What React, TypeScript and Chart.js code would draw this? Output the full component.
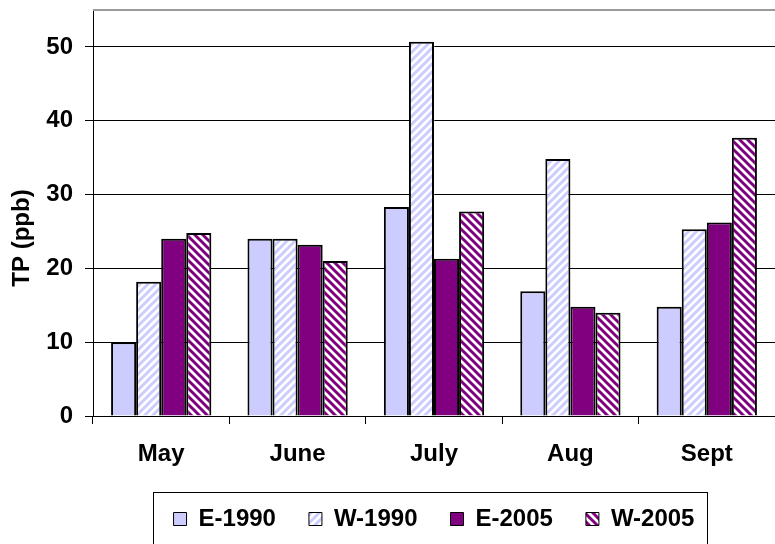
import React, { useEffect, useRef } from "react";
import { Chart, registerables } from "chart.js";

Chart.register(...registerables);

const categories = ["May", "June", "July", "Aug", "Sept"];
const seriesNames = ["E-1990", "W-1990", "E-2005", "W-2005"];
const e1990 = [10.0, 24.0, 28.3, 16.9, 14.8];
const w1990 = [18.2, 24.0, 50.7, 34.8, 25.3];
const e2005 = [24.0, 23.2, 21.3, 14.8, 26.2];
const w2005 = [24.8, 21.0, 27.7, 14.0, 37.7];
const yTicks = [0, 10, 20, 30, 40, 50];
const yTitle = "TP (ppb)";

const LAVENDER = "#CCCCFF";
const PURPLE = "#800080";
const FONT = "Arial, 'Liberation Sans', sans-serif";
const FSIZE = 24;

function makeStripe(color: string, dir: "up" | "down"): CanvasPattern | string {
  const size = 8;
  const c = document.createElement("canvas");
  c.width = size;
  c.height = size;
  const ctx = c.getContext("2d");
  if (!ctx) return color;
  ctx.fillStyle = "#ffffff";
  ctx.fillRect(0, 0, size, size);
  ctx.strokeStyle = color;
  ctx.lineWidth = 3;
  ctx.lineCap = "square";
  for (let o = -size; o <= size; o += size) {
    ctx.beginPath();
    if (dir === "up") {
      ctx.moveTo(o - 1, size + 1);
      ctx.lineTo(o + size + 1, -1);
    } else {
      ctx.moveTo(o - 1, -1);
      ctx.lineTo(o + size + 1, size + 1);
    }
    ctx.stroke();
  }
  const p = ctx.createPattern(c, "repeat");
  return p || color;
}

const framePlugin = {
  id: "frames",
  afterDraw(chart: any) {
    const { ctx, chartArea } = chart;
    ctx.save();
    // top border of plot area
    ctx.strokeStyle = "#9a9a9a";
    ctx.lineWidth = 2;
    ctx.beginPath();
    ctx.moveTo(chartArea.left, chartArea.top);
    ctx.lineTo(chart.width, chartArea.top);
    ctx.stroke();
    // y-axis title
    ctx.fillStyle = "#000";
    ctx.font = `bold ${FSIZE}px ${FONT}`;
    ctx.textAlign = "center";
    ctx.textBaseline = "middle";
    ctx.translate(22, 238);
    ctx.rotate(-Math.PI / 2);
    ctx.fillText(yTitle, 0, 0);
    ctx.setTransform(1, 0, 0, 1, 0, 0);
    // legend frame
    const lg = chart.legend;
    if (lg && lg.legendHitBoxes && lg.legendHitBoxes.length) {
      const boxes = lg.legendHitBoxes;
      let minL = Infinity, maxR = -Infinity, minT = Infinity;
      boxes.forEach((b: any) => {
        minL = Math.min(minL, b.left);
        maxR = Math.max(maxR, b.left + b.width);
        minT = Math.min(minT, b.top);
      });
      ctx.strokeStyle = "#000";
      ctx.lineWidth = 1;
      ctx.strokeRect(Math.round(minL - 21) + 0.5, Math.round(minT - 15) + 0.5, Math.round(maxR - minL + 33), 80);
    }
    ctx.restore();
  },
};

export default function App() {
  const ref = useRef<HTMLCanvasElement | null>(null);
  useEffect(() => {
    document.body.style.margin = "0";
    const canvas = ref.current;
    if (!canvas) return;
    const wUp = makeStripe(LAVENDER, "up");
    const wDown = makeStripe(PURPLE, "down");
    const fills = [LAVENDER, wUp, PURPLE, wDown];
    const values = [e1990, w1990, e2005, w2005];
    const chart = new Chart(canvas, {
      type: "bar",
      data: {
        labels: categories,
        datasets: seriesNames.map((name, i) => ({
          label: name,
          data: values[i],
          backgroundColor: fills[i] as any,
          borderColor: "#000",
          borderWidth: 2,
          categoryPercentage: 0.735,
          barPercentage: 1,
        })),
      },
      options: {
        animation: false,
        responsive: false,
        maintainAspectRatio: false,
        layout: { padding: { left: 0, right: 0, top: 10, bottom: 3 } },
        plugins: {
          tooltip: { enabled: false },
          legend: {
            position: "bottom",
            fullSize: false,
            labels: {
              boxWidth: 13,
              boxHeight: 13,
              padding: 33,
              color: "#000",
              font: { family: FONT, size: FSIZE, weight: "bold" },
              generateLabels(ch: any) {
                const items = Chart.defaults.plugins.legend.labels.generateLabels(ch);
                items.forEach((it: any) => {
                  it.lineWidth = 1;
                });
                return items;
              },
            },
          },
        },
        scales: {
          x: {
            grid: {
              offset: true,
              drawOnChartArea: false,
              drawTicks: true,
              tickLength: 8,
              color: "#000",
            },
            border: { color: "#000", width: 1 },
            ticks: {
              color: "#000",
              padding: 16,
              font: { family: FONT, size: FSIZE, weight: "bold" },
            },
            afterFit(scale: any) {
              scale.height = 58;
              scale.paddingLeft = 0;
              scale.paddingRight = 0;
            },
          },
          y: {
            min: 0,
            max: 55,
            afterBuildTicks(scale: any) {
              scale.ticks = yTicks.map((v) => ({ value: v }));
            },
            grid: {
              color: "#000",
              lineWidth: 1,
              tickLength: 8,
            },
            border: { color: "#000", width: 1 },
            ticks: {
              color: "#000",
              padding: 12,
              font: { family: FONT, size: FSIZE, weight: "bold" },
            },
            afterFit(scale: any) {
              scale.width = 93;
              scale.paddingTop = 0;
              scale.paddingBottom = 0;
            },
          },
        },
      },
      plugins: [framePlugin],
    });
    return () => chart.destroy();
  }, []);
  return (
    <div style={{ width: 775, height: 544 }}>
      <canvas ref={ref} width={775} height={544} style={{ display: "block" }} />
    </div>
  );
}
